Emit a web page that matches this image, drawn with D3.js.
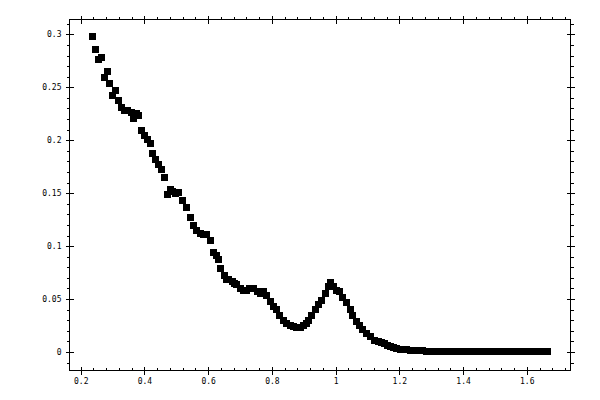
<!DOCTYPE html>
<html lang="en">
<head>
  <meta charset="UTF-8">
  <title>Scatter</title>
  <script src="https://d3js.org/d3.v7.min.js"></script>
  <style>
    body {
      margin: 0;
      background: #fff;
    }

    .axis text {
      font-family: "DejaVu Sans Mono", "Liberation Mono", monospace;
      font-size: 8px;
      fill: #000;
    }

    .axis line {
      stroke: #000;
      shape-rendering: crispEdges;
    }
  </style>
</head>
<body>
  <div id="chart"></div>

  <script>
    const xValues = [
      0.2364, 0.2458, 0.2552, 0.2647, 0.2731, 0.2835, 0.2898, 0.2992, 0.3086, 0.318,
      0.3265, 0.3368, 0.3475, 0.3588, 0.3651, 0.3736, 0.3814, 0.3893, 0.3996, 0.4103,
      0.4175, 0.4247, 0.4332, 0.4436, 0.452, 0.4624, 0.4731, 0.4803, 0.4881, 0.496,
      0.5063, 0.5189, 0.5327, 0.5431, 0.5534, 0.5641, 0.5745, 0.5848, 0.5955, 0.6058,
      0.6162, 0.6247, 0.6319, 0.6394, 0.6498, 0.6561, 0.6633, 0.6758, 0.6827, 0.6896,
      0.7, 0.7104, 0.7204, 0.7292, 0.7417, 0.7543, 0.7628, 0.7722, 0.7838, 0.7942,
      0.8045, 0.8152, 0.8255, 0.8359, 0.8466, 0.8569, 0.8673, 0.878, 0.8883, 0.8977,
      0.9072, 0.9144, 0.9251, 0.9354, 0.9458, 0.9564, 0.9668, 0.9772, 0.9825, 0.9929,
      1.0013, 1.0117, 1.0211, 1.0327, 1.0453, 1.0537, 1.0641, 1.0745, 1.0851, 1.0955,
      1.108, 1.1206, 1.1341, 1.1426, 1.152, 1.1614, 1.1708, 1.1812, 1.1912, 1.2022,
      1.2116, 1.2232, 1.2336,
      1.244, 1.254, 1.264, 1.274, 1.284, 1.294, 1.304, 1.314, 1.324, 1.334,
      1.344, 1.354, 1.364, 1.374, 1.384, 1.394, 1.404, 1.414, 1.424, 1.434,
      1.444, 1.454, 1.464, 1.474, 1.484, 1.494, 1.504, 1.514, 1.524, 1.534,
      1.544, 1.554, 1.564, 1.574, 1.584, 1.594, 1.604, 1.614, 1.624, 1.634,
      1.644, 1.654, 1.664
    ];

    const yValues = [
      0.2977, 0.2858, 0.2764, 0.2779, 0.2594, 0.2647, 0.2537, 0.2424, 0.2474, 0.2377,
      0.2313, 0.2279, 0.2279, 0.2266, 0.2207, 0.2252, 0.2238, 0.2090, 0.2049, 0.2009,
      0.1971, 0.1876, 0.1820, 0.1772, 0.1719, 0.1650, 0.1492, 0.1536, 0.1511, 0.1499,
      0.1504, 0.1435, 0.1366, 0.1272, 0.1199, 0.1152, 0.1121, 0.1114, 0.1105, 0.1051,
      0.0938, 0.0916, 0.0869, 0.0790, 0.0727, 0.0689, 0.0680, 0.0664, 0.0649, 0.0633,
      0.0604, 0.0585, 0.0585, 0.0602, 0.0602, 0.0569, 0.0557, 0.0576, 0.0538, 0.0475,
      0.0434, 0.0397, 0.0349, 0.0302, 0.0271, 0.0248, 0.0239, 0.0236, 0.0236, 0.0246,
      0.0269, 0.0302, 0.0349, 0.0397, 0.0444, 0.0491, 0.0554, 0.0617, 0.0654, 0.0623,
      0.0579, 0.0569, 0.0517, 0.0466, 0.0397, 0.0349, 0.0286, 0.0246, 0.0208, 0.0170,
      0.0144, 0.0113, 0.0097, 0.0085, 0.0076, 0.0061, 0.0052, 0.0042, 0.0035, 0.0028,
      0.0022, 0.0019, 0.0014,
      0.0013, 0.0012, 0.0011, 0.0010, 0.0009, 0.0008, 0.0007, 0.0006, 0.0005, 0.0004,
      0.0004, 0.0005, 0.0004, 0.0003, 0.0003, 0.0002, 0.0002, 0.0002, 0.0002, 0.0002,
      0.0001, 0.0001, 0.0001, 0.0001, 0.0001, 0.0001, 0.0001, 0.0001, 0.0001, 0.0001,
      0.0001, 0.0001, 0.0001, 0.0001, 0.0001, 0.0001, 0.0001, 0.0001, 0.0001, 0.0001,
      0.0001, 0.0001, 0.0001
    ];

    const xTicks = [0.2, 0.4, 0.6, 0.8, 1, 1.2, 1.4, 1.6];
    const xTickLabels = ["0.2", "0.4", "0.6", "0.8", "1", "1.2", "1.4", "1.6"];
    const xMinorTicks = [0.24, 0.28, 0.32, 0.36, 0.44, 0.48, 0.52, 0.56, 0.64, 0.68, 0.72, 0.76,
      0.84, 0.88, 0.92, 0.96, 1.04, 1.08, 1.12, 1.16, 1.24, 1.28, 1.32, 1.36,
      1.44, 1.48, 1.52, 1.56, 1.64, 1.68, 1.72];

    const yTicks = [0, 0.05, 0.1, 0.15, 0.2, 0.25, 0.3];
    const yTickLabels = ["0", "0.05", "0.1", "0.15", "0.2", "0.25", "0.3"];
    const yMinorTicks = [-0.01, 0.01, 0.02, 0.03, 0.04, 0.06, 0.07, 0.08, 0.09, 0.11, 0.12, 0.13, 0.14,
      0.16, 0.17, 0.18, 0.19, 0.21, 0.22, 0.23, 0.24, 0.26, 0.27, 0.28, 0.29, 0.31];

    const width = 600;
    const height = 400;
    const plotLeft = 69.5, plotRight = 570.5, plotTop = 19.5, plotBottom = 370.5;
    const markerSize = 7;

    const svg = d3.select("#chart")
      .append("svg")
      .attr("width", width)
      .attr("height", height);

    const xScale = d3.scaleLinear()
      .domain([0.1648, 1.7373])
      .range([plotLeft, plotRight]);

    const yScale = d3.scaleLinear()
      .domain([-0.01747, 0.314])
      .range([plotBottom, plotTop]);

    // major ticks cross the frame, minor ones sit on one side
    const bottomMajor = svg.append("g")
      .attr("class", "axis")
      .attr("transform", `translate(0, ${plotBottom})`)
      .call(d3.axisBottom(xScale).tickValues(xTicks).tickSize(4).tickPadding(3.5)
        .tickFormat((d, i) => xTickLabels[i]));
    bottomMajor.selectAll("line").attr("y1", -4);

    svg.append("g")
      .attr("class", "axis")
      .attr("transform", `translate(0, ${plotBottom})`)
      .call(d3.axisBottom(xScale).tickValues(xMinorTicks).tickSize(-3).tickFormat(""));

    const topMajor = svg.append("g")
      .attr("class", "axis")
      .attr("transform", `translate(0, ${plotTop})`)
      .call(d3.axisTop(xScale).tickValues(xTicks).tickSize(4).tickFormat(""));
    topMajor.selectAll("line").attr("y1", 4);

    svg.append("g")
      .attr("class", "axis")
      .attr("transform", `translate(0, ${plotTop})`)
      .call(d3.axisTop(xScale).tickValues(xMinorTicks).tickSize(3).tickFormat(""));

    const leftMajor = svg.append("g")
      .attr("class", "axis")
      .attr("transform", `translate(${plotLeft}, 0)`)
      .call(d3.axisLeft(yScale).tickValues(yTicks).tickSize(4).tickPadding(4)
        .tickFormat((d, i) => yTickLabels[i]));
    leftMajor.selectAll("line").attr("x1", 4);

    svg.append("g")
      .attr("class", "axis")
      .attr("transform", `translate(${plotLeft}, 0)`)
      .call(d3.axisLeft(yScale).tickValues(yMinorTicks).tickSize(3).tickFormat(""));

    const rightMajor = svg.append("g")
      .attr("class", "axis")
      .attr("transform", `translate(${plotRight}, 0)`)
      .call(d3.axisRight(yScale).tickValues(yTicks).tickSize(4).tickFormat(""));
    rightMajor.selectAll("line").attr("x1", -4);

    svg.append("g")
      .attr("class", "axis")
      .attr("transform", `translate(${plotRight}, 0)`)
      .call(d3.axisRight(yScale).tickValues(yMinorTicks).tickSize(3).tickFormat(""));

    svg.selectAll(".axis .domain").remove();

    svg.append("rect")
      .attr("x", plotLeft)
      .attr("y", plotTop)
      .attr("width", plotRight - plotLeft)
      .attr("height", plotBottom - plotTop)
      .attr("fill", "none")
      .attr("stroke", "#000")
      .attr("shape-rendering", "crispEdges");

    const points = xValues.map((x, i) => ({ x: x, y: yValues[i] }));

    svg.append("g")
      .selectAll("rect")
      .data(points)
      .enter()
      .append("rect")
      .attr("x", d => Math.round(xScale(d.x) - markerSize / 2))
      .attr("y", d => Math.round(yScale(d.y) - markerSize / 2))
      .attr("width", markerSize)
      .attr("height", markerSize)
      .attr("fill", "#000")
      .attr("shape-rendering", "crispEdges");
  </script>
</body>
</html>
